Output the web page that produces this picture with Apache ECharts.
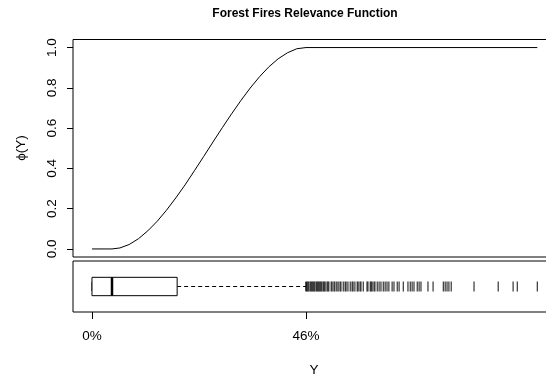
<!DOCTYPE html>
<html>
<head>
<meta charset="utf-8">
<script src="https://cdn.jsdelivr.net/npm/echarts@6/dist/echarts.min.js"></script>
<style>
  html, body { margin: 0; padding: 0; background: #fff; }
  #chart { width: 546px; height: 376px; }
</style>
</head>
<body>
<div id="chart"></div>
<script>
// relevance curve (x in % units, phi in 0..1)
const curveX = [0, 4.3, 6, 8, 10, 12, 14, 16, 18, 20, 22, 24, 26, 28, 30, 32, 34, 36, 38, 40, 42, 44, 46, 95.7];
const curveY = [0, 0, 0.005, 0.022, 0.051, 0.09, 0.137, 0.192, 0.253, 0.318, 0.388, 0.459, 0.531, 0.602, 0.671, 0.737, 0.799, 0.855, 0.904, 0.944, 0.974, 0.994, 1, 1];

// boxplot: lower whisker, Q1, median, Q3, upper whisker
const boxStats = [0, 0, 4.3, 18.3, 46];
const outliers = [
  46.0, 46.2, 46.4, 46.6, 46.9, 47.1, 47.3, 47.5, 47.7, 47.9, 48.2, 48.4, 48.6, 48.8,
  49.0, 49.2, 49.4, 49.7, 49.9, 50.1, 50.5, 50.7, 50.9, 51.4, 51.6, 52.0, 52.2, 52.6,
  52.9, 53.3, 53.5, 54.0, 54.4, 54.6, 55.0, 55.5, 55.9, 56.1, 56.5, 57.0, 57.2, 57.6,
  57.8, 58.3, 59.1, 59.3, 59.8, 60.0, 60.2, 60.6, 60.8, 61.3, 61.7, 62.1, 62.6, 63.0,
  63.4, 63.8, 64.5, 64.9, 65.6, 66.0, 66.9, 67.9, 68.4, 68.8, 69.2, 69.9, 70.3, 70.7,
  72.2, 73.3, 75.5, 75.9, 76.3, 76.7, 77.2, 82.1, 87.3, 90.5, 91.4, 95.7
];

const xTicks = [0, 46];
const yTicks = [0, 0.2, 0.4, 0.6, 0.8, 1.0];

const FONT = '"Liberation Sans", Arial, Helvetica, sans-serif';
const xMin = -4.08, xMax = 99.5;

const chart = echarts.init(document.getElementById('chart'), null, { renderer: 'canvas' });

chart.setOption({
  animation: false,
  backgroundColor: '#fff',
  grid: [
    { left: 73, top: 39.5, width: 482, height: 217.5, outerBoundsMode: 'none', containLabel: false, show: true, borderColor: '#000', borderWidth: 1, backgroundColor: 'transparent' },
    { left: 73, top: 261, width: 482, height: 51, outerBoundsMode: 'none', containLabel: false, show: true, borderColor: '#000', borderWidth: 1, backgroundColor: 'transparent' }
  ],
  xAxis: [
    { gridIndex: 0, type: 'value', min: xMin, max: xMax, show: false },
    {
      gridIndex: 1, type: 'value', min: xMin, max: xMax,
      axisLine: { show: false, onZero: false },
      axisTick: { show: true, customValues: xTicks, length: 7, lineStyle: { color: '#000' } },
      axisLabel: {
        customValues: xTicks, margin: 17, color: '#000', fontSize: 13.5, fontFamily: FONT,
        formatter: (v) => v + '%'
      },
      splitLine: { show: false }
    }
  ],
  yAxis: [
    {
      gridIndex: 0, type: 'value', min: -0.04, max: 1.04,
      axisLine: { show: false, onZero: false },
      axisTick: { show: true, customValues: yTicks, length: 6, lineStyle: { color: '#000' } },
      axisLabel: {
        customValues: yTicks, rotate: 90, margin: 14, color: '#000', fontSize: 13.5, fontFamily: FONT,
        formatter: (v) => v.toFixed(1)
      },
      splitLine: { show: false }
    },
    { gridIndex: 1, type: 'category', data: ['Y'], show: false }
  ],
  series: [
    {
      type: 'line',
      xAxisIndex: 0, yAxisIndex: 0,
      data: curveX.map((x, i) => [x, curveY[i]]),
      showSymbol: false,
      lineStyle: { color: '#000', width: 1 }
    },
    {
      type: 'custom',
      xAxisIndex: 1, yAxisIndex: 1,
      data: [[0, ...boxStats]],
      encode: { y: 0, x: [1, 2, 3, 4, 5] },
      renderItem: (params, api) => {
        const cy = api.coord([0, api.value(0)])[1];
        const band = api.size([0, 1])[1];
        const half = band * 0.18;
        const staple = half * 0.5;
        const px = (i) => api.coord([api.value(i), api.value(0)])[0];
        const lo = px(1), q1 = px(2), med = px(3), q3 = px(4), hi = px(5);
        const stroke = { stroke: '#000', lineWidth: 1, fill: null };
        return {
          type: 'group',
          children: [
            { type: 'line', shape: { x1: q3, y1: cy, x2: hi, y2: cy }, style: { stroke: '#000', lineWidth: 1, lineDash: [4, 3] } },
            { type: 'line', shape: { x1: lo, y1: cy, x2: q1, y2: cy }, style: { stroke: '#000', lineWidth: 1, lineDash: [4, 3] } },
            { type: 'line', shape: { x1: hi, y1: cy - staple, x2: hi, y2: cy + staple }, style: stroke },
            { type: 'line', shape: { x1: lo, y1: cy - staple, x2: lo, y2: cy + staple }, style: stroke },
            { type: 'rect', shape: { x: q1, y: cy - half, width: q3 - q1, height: half * 2 }, style: { stroke: '#000', lineWidth: 1, fill: '#fff' } },
            { type: 'line', shape: { x1: med, y1: cy - half, x2: med, y2: cy + half }, style: { stroke: '#000', lineWidth: 2.5 } }
          ]
        };
      }
    },
    {
      type: 'scatter',
      xAxisIndex: 1, yAxisIndex: 1,
      data: outliers.map((v) => [v, 0]),
      symbol: 'rect',
      symbolSize: [1.2, 10],
      itemStyle: { color: '#000' },
      z: 5
    }
  ],
  graphic: [
    {
      type: 'text', x: 305, y: 14,
      style: { text: 'Forest Fires Relevance Function', font: 'bold 12px ' + FONT, fill: '#000', textAlign: 'center', textVerticalAlign: 'middle' }
    },
    {
      type: 'text', x: 21, y: 148, rotation: Math.PI / 2,
      style: { text: 'ϕ(Y)', font: '13.5px ' + FONT, fill: '#000', textAlign: 'center', textVerticalAlign: 'middle' }
    },
    {
      type: 'text', x: 314, y: 370,
      style: { text: 'Y', font: '13.5px ' + FONT, fill: '#000', textAlign: 'center', textVerticalAlign: 'middle' }
    }
  ]
});
</script>
</body>
</html>
